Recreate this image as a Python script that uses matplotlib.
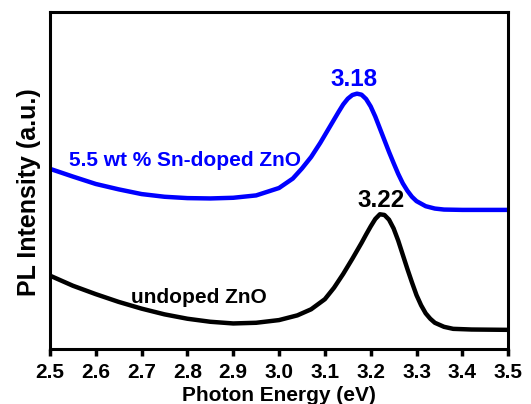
import matplotlib
matplotlib.use('Agg')
import matplotlib.pyplot as plt

matplotlib.rcParams['font.family'] = ['Liberation Sans', 'DejaVu Sans']
matplotlib.rcParams['font.weight'] = 'bold'

# ===== DATA =====
energy_doped = [2.50, 2.55, 2.60, 2.65, 2.70, 2.75, 2.80, 2.85, 2.90, 2.95,
                3.00, 3.03, 3.05, 3.07, 3.09, 3.11, 3.13, 3.14, 3.15, 3.16,
                3.17, 3.18, 3.19, 3.20, 3.21, 3.22, 3.23, 3.24, 3.25, 3.26,
                3.27, 3.28, 3.29, 3.30, 3.32, 3.34, 3.36, 3.40, 3.45, 3.50]
pl_doped = [53.5, 51.2, 49.0, 47.4, 46.0, 45.2, 44.8, 44.7, 44.9, 45.6,
            47.8, 50.6, 53.6, 57.0, 61.2, 65.8, 70.4, 72.6, 74.3, 75.4,
            75.8, 75.5, 74.2, 72.0, 69.0, 65.5, 62.0, 58.5, 55.2, 52.0,
            49.2, 47.0, 45.2, 43.9, 42.4, 41.7, 41.4, 41.3, 41.3, 41.3]

energy_undoped = [2.50, 2.55, 2.60, 2.65, 2.70, 2.75, 2.80, 2.85, 2.90, 2.95,
                  3.00, 3.04, 3.07, 3.10, 3.12, 3.14, 3.16, 3.18, 3.19, 3.20,
                  3.21, 3.22, 3.23, 3.24, 3.25, 3.26, 3.27, 3.28, 3.29, 3.30,
                  3.31, 3.32, 3.33, 3.34, 3.36, 3.38, 3.42, 3.50]
pl_undoped = [21.8, 18.8, 16.3, 14.0, 12.0, 10.3, 9.0, 8.1, 7.6, 7.8,
              8.6, 10.0, 11.8, 14.8, 18.2, 22.3, 26.8, 31.5, 34.0, 36.4,
              38.6, 40.0, 39.8, 38.4, 35.8, 32.2, 28.0, 23.8, 19.8, 16.0,
              13.0, 10.6, 9.0, 7.8, 6.6, 6.0, 5.8, 5.7]

xticks = [2.5, 2.6, 2.7, 2.8, 2.9, 3.0, 3.1, 3.2, 3.3, 3.4, 3.5]

BLUE = '#0000FF'

fig = plt.figure(figsize=(5.31, 4.04), dpi=100)
ax = fig.add_axes([0.094, 0.136, 0.863, 0.834])

ax.plot(energy_doped, pl_doped, color=BLUE, lw=3.2)
ax.plot(energy_undoped, pl_undoped, color='black', lw=3.2)

ax.set_xlim(2.5, 3.5)
ax.set_ylim(0, 100)
ax.set_xticks(xticks)
ax.set_xticklabels([f'{t:.1f}' for t in xticks])
ax.set_yticks([])
ax.tick_params(axis='x', direction='out', length=5, width=2.5, labelsize=15, pad=5)
for s in ax.spines.values():
    s.set_linewidth(2.2)

ax.set_xlabel('Photon Energy (eV)', fontsize=15, fontweight='bold', labelpad=3)
ax.set_ylabel('PL Intensity (a.u.)', fontsize=18, fontweight='bold')
ax.yaxis.set_label_coords(-0.02, 0.466)

# peak labels and sample names
ax.text(3.163, 80.0, '3.18', color=BLUE, fontsize=17.5, fontweight='bold',
        ha='center', va='center')
ax.text(3.222, 44.1, '3.22', color='black', fontsize=17.5, fontweight='bold',
        ha='center', va='center')
ax.text(2.541, 55.9, '5.5 wt % Sn-doped ZnO', color=BLUE, fontsize=15,
        fontweight='bold', ha='left', va='center')
ax.text(2.678, 15.3, 'undoped ZnO', color='black', fontsize=15,
        fontweight='bold', ha='left', va='center')

fig.savefig('out.png', dpi=100, facecolor='white')
